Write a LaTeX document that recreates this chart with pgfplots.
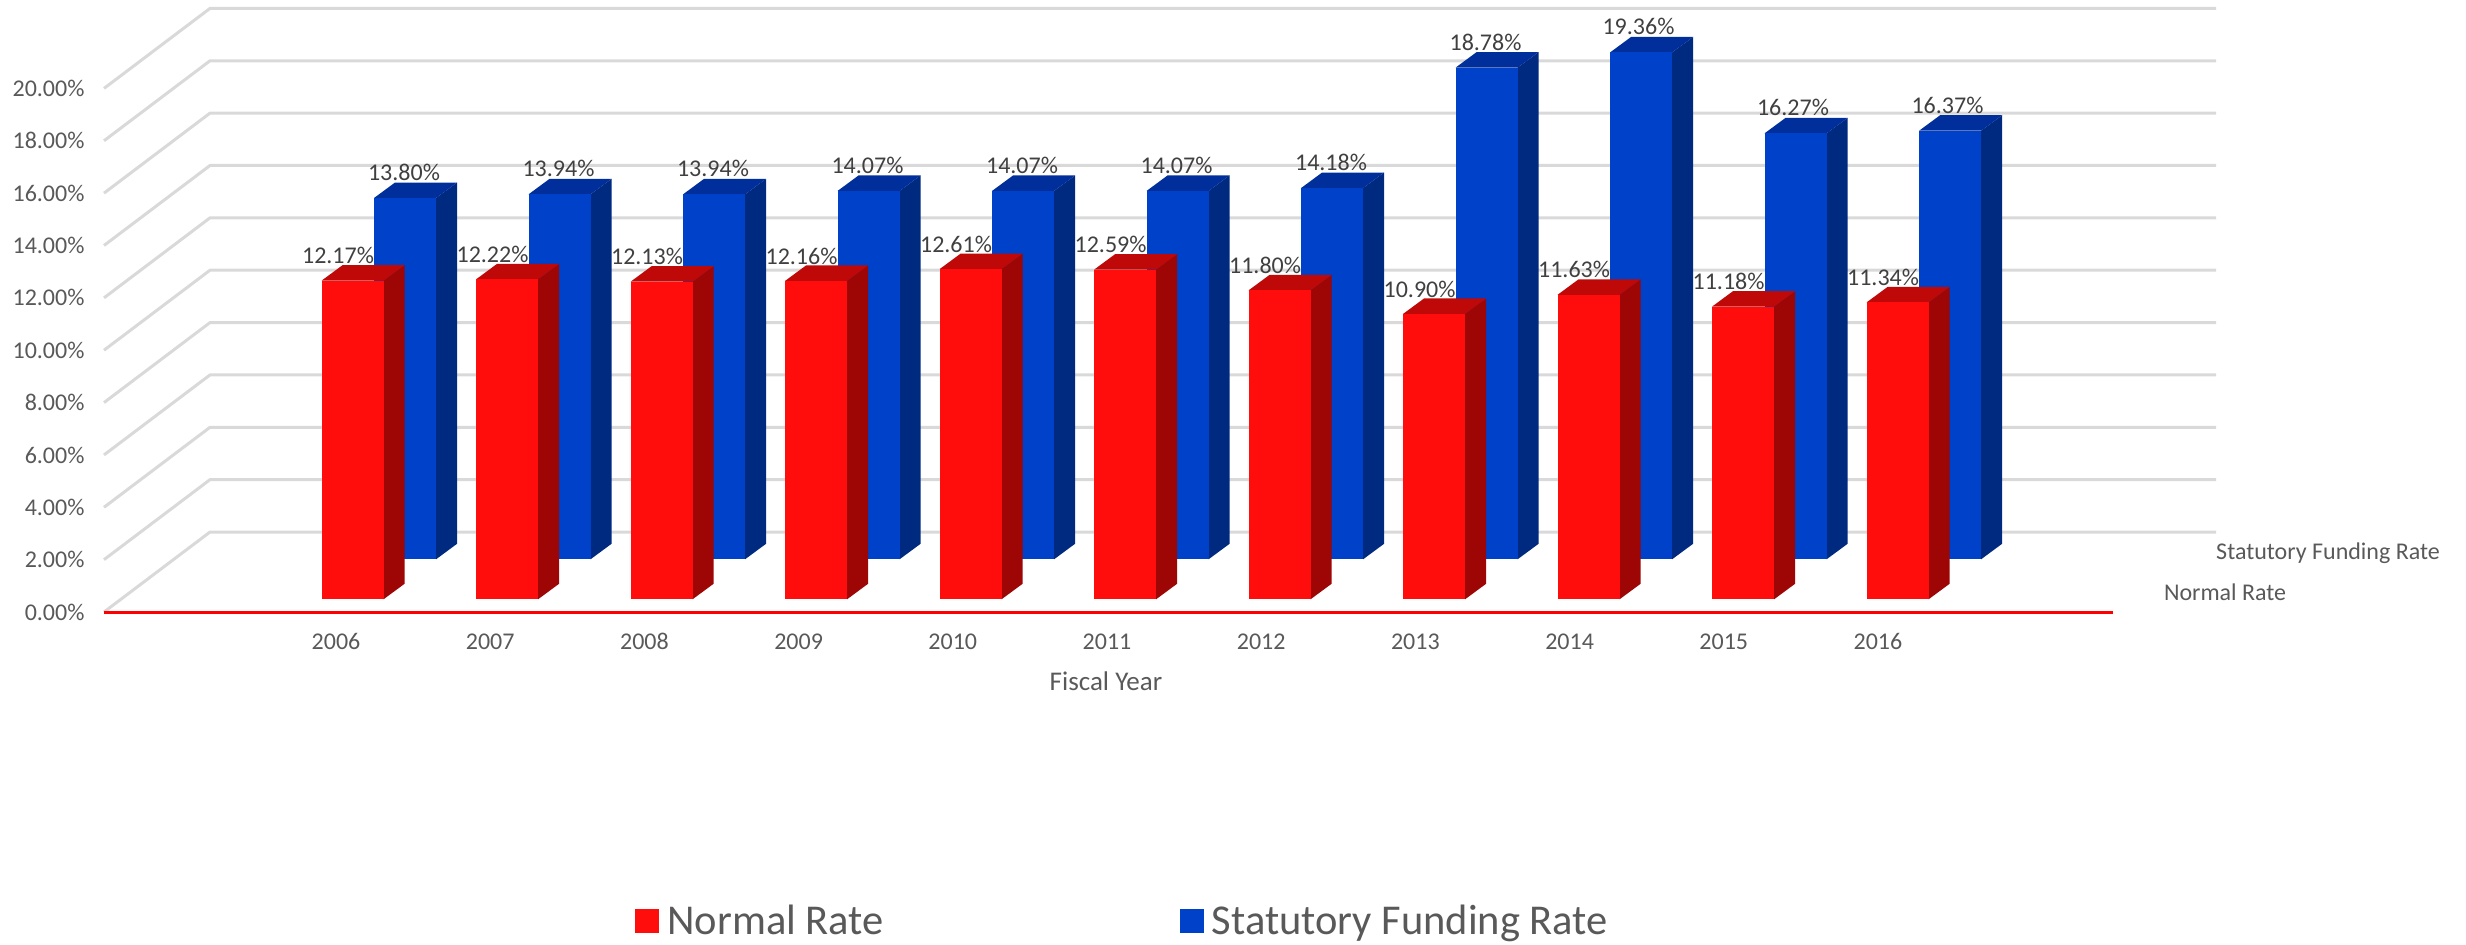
\documentclass[border=0pt]{standalone}
\usepackage{pgfplots}
\pgfplotsset{compat=1.18}
\usepackage{fontspec}
\setmainfont{Carlito}
\definecolor{gridc}{HTML}{D9D9D9}
\definecolor{txt}{HTML}{595959}
\definecolor{lab}{HTML}{404040}
\definecolor{rf}{HTML}{FF0D0D}
\definecolor{rt}{HTML}{BF0808}
\definecolor{rs}{HTML}{9E0505}
\definecolor{bf}{HTML}{0041C9}
\definecolor{bt}{HTML}{002F9C}
\definecolor{bs}{HTML}{002A80}
% grid: front-left point, back-left point, back-right point
\newcommand{\gridline}[1]{%
  \pgfmathsetmacro{\gv}{#1+3.056}%
  \addplot[forget plot,gridc,line width=3pt,line join=round] coordinates {(-1.5016,#1) (-0.8155,\gv) (12.168,\gv)};}
% #1 index, #2 value, #3 left offset, #4 base, #5 front, #6 top, #7 side colour
\newcommand{\threebar}[7]{%
  \pgfmathsetmacro{\xa}{#1+#3}%
  \pgfmathsetmacro{\xb}{\xa+0.4013}%
  \pgfmathsetmacro{\xc}{\xb+0.1359}%
  \pgfmathsetmacro{\xd}{\xa+0.1359}%
  \pgfmathsetmacro{\ya}{#4}%
  \pgfmathsetmacro{\yb}{#4+#2}%
  \pgfmathsetmacro{\yc}{\ya+0.592}%
  \pgfmathsetmacro{\yd}{\yb+0.592}%
  \addplot[forget plot,fill=#7,draw=none] coordinates {(\xb,\ya) (\xc,\yc) (\xc,\yd) (\xb,\yb)} --cycle;
  \addplot[forget plot,fill=#6,draw=none] coordinates {(\xa,\yb) (\xb,\yb) (\xc,\yd) (\xd,\yd)} --cycle;
  \addplot[forget plot,fill=#5,draw=none] coordinates {(\xa,\ya) (\xb,\ya) (\xb,\yb) (\xa,\yb)} --cycle;}
\newcommand{\redbar}[2]{\threebar{#1}{#2}{-0.0939}{0.485}{rf}{rt}{rs}}
\newcommand{\bluebar}[2]{\threebar{#1}{#2}{0.246}{2.013}{bf}{bt}{bs}}
\begin{document}
\begin{tikzpicture}
\begin{axis}[
  scale only axis, width=2466pt, height=944pt,
  xmin=-2.1748, xmax=13.786, ymin=-12.681, ymax=23.377,
  axis line style={draw=none}, tick style={draw=none},
  clip=false,
  font=\fontsize{24}{28}\selectfont,
  xtick={0,0.998,1.996,2.994,3.992,4.99,5.988,6.986,7.984,8.982,9.98},
  xticklabels={2006,2007,2008,2009,2010,2011,2012,2013,2014,2015,2016},
  xticklabel style={text=txt,anchor=center,yshift=302.5pt},
  ytick={0,2,4,6,8,10,12,14,16,18,20},
  yticklabels={0.00\%,2.00\%,4.00\%,6.00\%,8.00\%,10.00\%,12.00\%,14.00\%,16.00\%,18.00\%,20.00\%},
  yticklabel style={text=txt,anchor=east,xshift=88pt},
  xlabel={\fontsize{27}{30}\selectfont Fiscal Year},
  xlabel style={at={(axis description cs:0.4485,0.2786)},anchor=center,text=txt},
  legend style={draw=none,fill=none,at={(axis description cs:0.2563,0.004)},anchor=south west,
    font=\fontsize{42.5}{46}\selectfont,text=txt,legend columns=2,
    /tikz/every even column/.append style={column sep=294pt}},
  legend image code/.code={\fill[draw=none,#1] (0pt,-12pt) rectangle (24pt,12pt);\path (30pt,0pt);},
  every node near coord/.append style={anchor=center,text=lab,font=\fontsize{24}{28}\selectfont},
]
\gridline{0}\gridline{2}\gridline{4}\gridline{6}\gridline{8}\gridline{10}
\gridline{12}\gridline{14}\gridline{16}\gridline{18}\gridline{20}
\addplot[forget plot,color=red,line width=3pt] coordinates {(-1.5016,0) (11.50,0)};
\bluebar{0}{13.80}\bluebar{1}{13.94}\bluebar{2}{13.94}\bluebar{3}{14.07}\bluebar{4}{14.07}\bluebar{5}{14.07}
\bluebar{6}{14.18}\bluebar{7}{18.78}\bluebar{8}{19.36}\bluebar{9}{16.27}\bluebar{10}{16.37}
\redbar{0}{12.17}\redbar{1}{12.22}\redbar{2}{12.13}\redbar{3}{12.16}\redbar{4}{12.61}\redbar{5}{12.59}
\redbar{6}{11.80}\redbar{7}{10.90}\redbar{8}{11.63}\redbar{9}{11.18}\redbar{10}{11.34}
% value labels
\addplot[forget plot,draw=none,point meta=explicit,
  nodes near coords={\pgfmathprintnumber[fixed,fixed zerofill,precision=2,assume math mode=true]{\pgfplotspointmeta}\%}] coordinates {
  (0.44,16.795)[13.80] (1.44,16.935)[13.94] (2.44,16.935)[13.94] (3.44,17.065)[14.07]
  (4.44,17.065)[14.07] (5.44,17.065)[14.07] (6.44,17.175)[14.18] (7.44,21.775)[18.78]
  (8.43,22.355)[19.36] (9.43,19.265)[16.27] (10.43,19.365)[16.37]};
\addplot[forget plot,draw=none,point meta=explicit,
  nodes near coords={\pgfmathprintnumber[fixed,fixed zerofill,precision=2,assume math mode=true]{\pgfplotspointmeta}\%}] coordinates {
  (0.013,13.61)[12.17] (1.013,13.66)[12.22] (2.013,13.57)[12.13] (3.013,13.60)[12.16]
  (4.013,14.05)[12.61] (5.013,14.03)[12.59] (6.013,13.24)[11.80] (7.013,12.34)[10.90]
  (8.013,13.07)[11.63] (9.013,12.62)[11.18] (10.013,12.78)[11.34]};
\addlegendimage{fill=rf}\addlegendentry{Normal Rate}
\addlegendimage{fill=bf}\addlegendentry{Statutory Funding Rate}
\node[anchor=west,text=txt,inner sep=0pt] at (axis cs:12.168,2.23) {Statutory Funding Rate};
\node[anchor=west,text=txt,inner sep=0pt] at (axis cs:11.83,0.742) {Normal Rate};
\end{axis}
\end{tikzpicture}
\end{document}
